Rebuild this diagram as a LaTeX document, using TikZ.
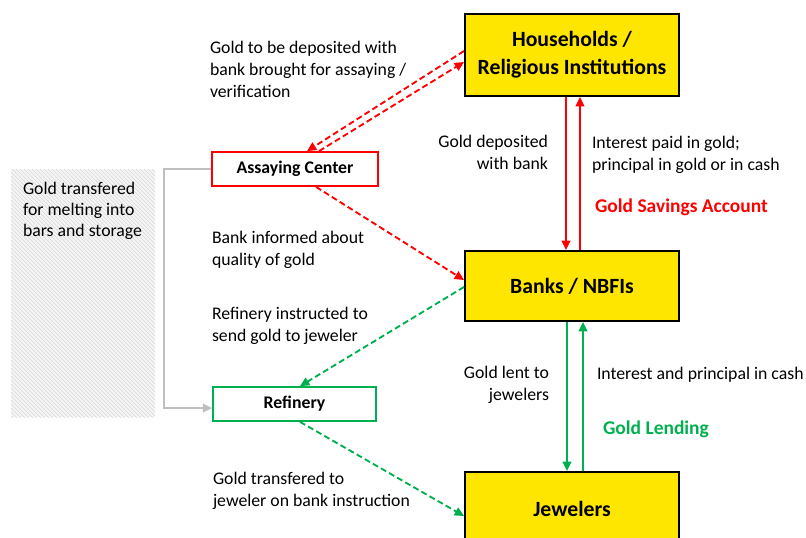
\documentclass[tikz,border=0pt]{standalone}
\usepackage{fontspec}
\setmainfont{Carlito}
\usepackage{tikz}
\usetikzlibrary{arrows.meta,calc,patterns,positioning}
\definecolor{amarillo}{RGB}{255,230,0}
\definecolor{rojo}{RGB}{255,0,0}
\definecolor{verde}{RGB}{0,176,80}
\definecolor{gris}{RGB}{191,191,191}
\tikzstyle{actor}=[rectangle, draw, fill=amarillo, line width=1.5pt,
                   minimum width=160.5pt, align=center,
                   font=\fontsize{16.3}{21}\selectfont\bfseries]
\tikzstyle{agent}=[rectangle, draw, fill=white, line width=1.3pt,
                   minimum height=25.5pt,
                   font=\fontsize{13.3}{15}\selectfont\bfseries]
\tikzstyle{edge}=[->, >={Triangle[length=7pt,width=6.5pt]},
                  line width=1.4pt]
\tikzstyle{dedge}=[edge, dash pattern=on 4.5pt off 2.5pt]
\tikzstyle{note}=[inner sep=0pt, outer sep=0pt, align=left,
                  font=\fontsize{13.3}{16.5}\selectfont]
\tikzstyle{tag}=[inner sep=0pt, outer sep=0pt,
                 font=\fontsize{14.6}{17}\selectfont\bfseries]

\begin{document}
\begin{tikzpicture}[x=0.75pt,y=-0.75pt]
    \clip (0,0) rectangle (806,537);

    % boxes
    \draw (572,55) node (hh) [actor, minimum height=61.5pt] {Households /\\Religious Institutions};
    \draw (572,286) node (bank) [actor, minimum height=52.5pt] {Banks / NBFIs};
    \draw (572,508.5) node (jew) [actor, minimum height=54.75pt] {Jewelers};
    \draw (295,169) node (assay) [agent, draw=rojo, minimum width=124.5pt] {Assaying Center};
    \draw (294.5,404) node (ref) [agent, draw=verde, minimum width=122.25pt] {Refinery};

    \fill [gray!8] (11,169) rectangle (155,417);
    \fill [pattern=north west lines, pattern color=gray!30] (11,169) rectangle (155,417);
    \draw (23,182) node (melt) [note, anchor=north west,
        font=\fontsize{13.3}{15.75}\selectfont] {Gold transfered\\for melting into\\bars and storage};

    % flows
    \draw [dedge,rojo] ($(hh.west)+(0,-4)$) to ($(assay.north)+(12,0)$);
    \draw [dedge,rojo] ($(assay.north)+(24,0)$) to ($(hh.west)+(0,7)$);
    \draw [dedge,rojo] ($(assay.south)+(21,0)$) to ($(bank.west)+(0,-6)$);
    \draw [dedge,verde] ($(bank.west)+(0,1)$) to ($(ref.north)+(5.5,0)$);
    \draw [dedge,verde] ($(ref.south)+(5.5,0)$) to ($(jew.west)+(0,7.5)$);
    \draw [edge,gris] (assay.west) -- ++(-47,0) |- ($(ref.west)+(0,4)$);

    \foreach \a/\b/\s/\c in {hh/bank/-6/rojo, bank/jew/-5/verde}
        \draw [edge,\c] ($(\a.south)+(\s,0)$) to ($(\b.north)+(\s,0)$);
    \foreach \a/\b/\s/\c in {bank/hh/8/rojo, jew/bank/11/verde}
        \draw [edge,\c] ($(\a.north)+(\s,0)$) to ($(\b.south)+(\s,0)$);

    % labels
    \draw (210,41) node (dep) [note, anchor=north west] {Gold to be deposited with\\bank brought for assaying /\\verification};
    \draw (548,135) node (gdep) [note, anchor=north east, align=right] {Gold deposited\\with bank};
    \draw (592,136) node (paid) [note, anchor=north west] {Interest paid in gold;\\principal in gold or in cash};
    \draw (595,199) node (gsa) [tag, anchor=north west, text=rojo] {Gold Savings Account};
    \draw (212,231) node (inf) [note, anchor=north west] {Bank informed about\\quality of gold};
    \draw (212,307) node (inst) [note, anchor=north west] {Refinery instructed to\\send gold to jeweler};
    \draw (549,366) node (lent) [note, anchor=north east, align=right] {Gold lent to\\jewelers};
    \draw (597,367) node (cash) [note, anchor=north west] {Interest and principal in cash};
    \draw (603,421) node (gl) [tag, anchor=north west, text=verde] {Gold Lending};
    \draw (213,472) node (tra) [note, anchor=north west] {Gold transfered to\\jeweler on bank instruction};

\end{tikzpicture}
\end{document}
